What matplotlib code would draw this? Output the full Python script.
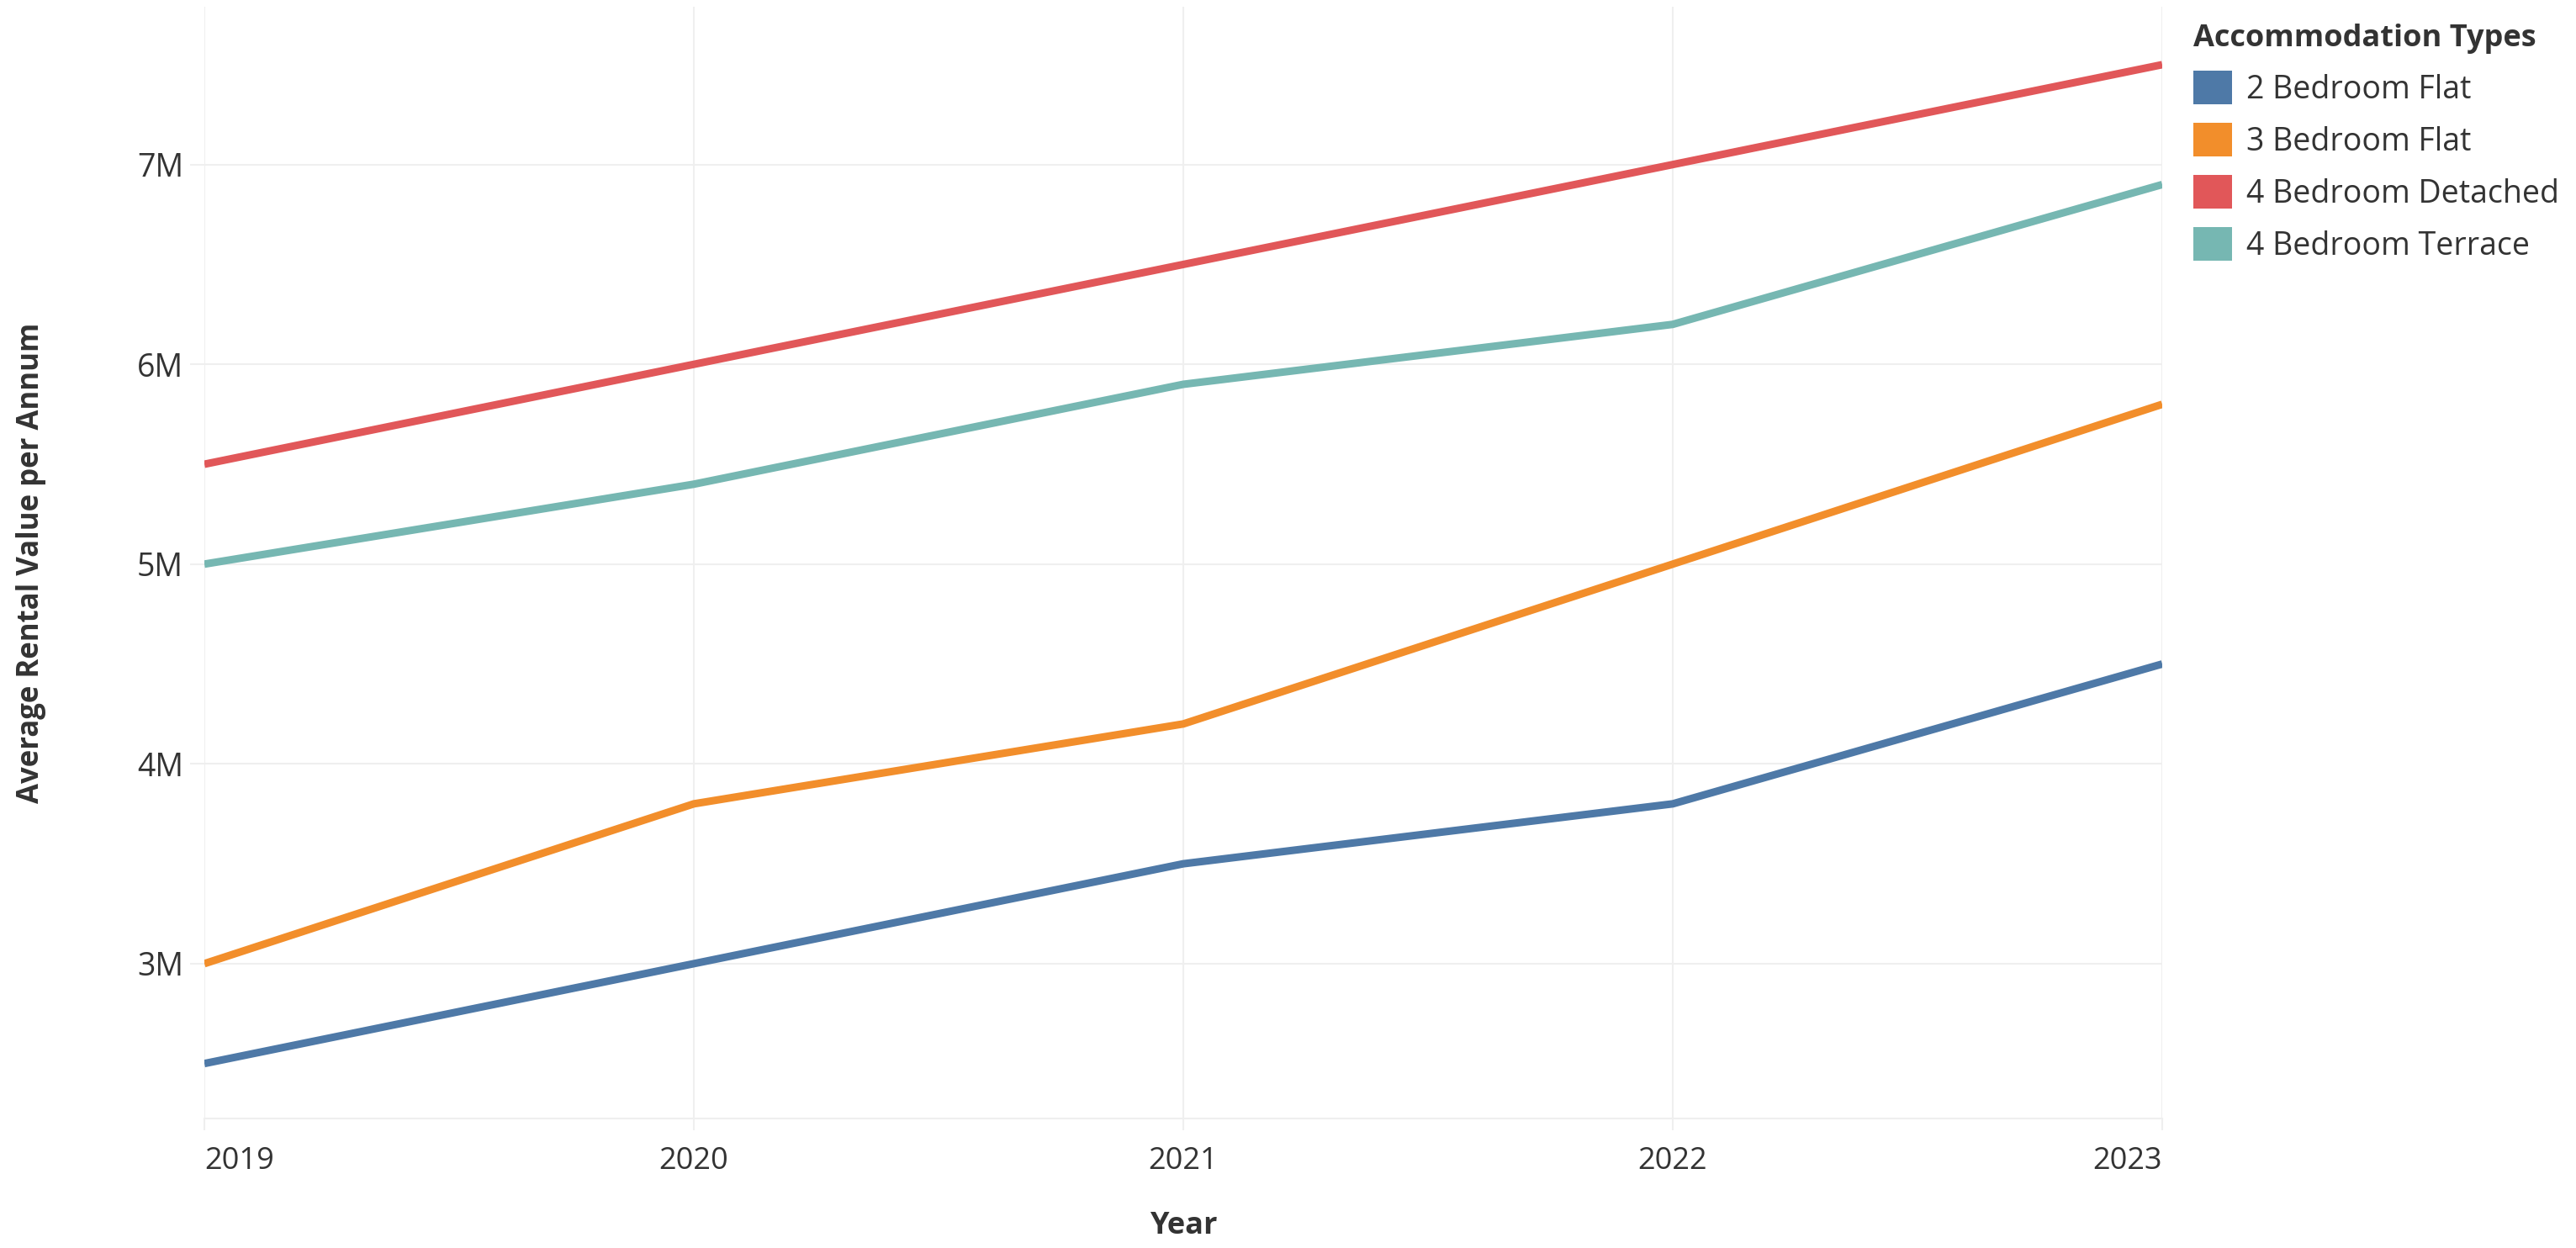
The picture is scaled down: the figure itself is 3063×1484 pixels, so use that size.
import matplotlib
matplotlib.use("Agg")
import matplotlib.pyplot as plt
from matplotlib.patches import Patch
from matplotlib.ticker import FuncFormatter, FixedLocator

# Data (values per annum)
years = [2019, 2020, 2021, 2022, 2023]
flat_2bed = [2500000, 3000000, 3500000, 3800000, 4500000]
flat_3bed = [3000000, 3800000, 4200000, 5000000, 5800000]
detached_4bed = [5500000, 6000000, 6500000, 7000000, 7500000]
terrace_4bed = [5000000, 5400000, 5900000, 6200000, 6900000]

series_names = ["2 Bedroom Flat", "3 Bedroom Flat", "4 Bedroom Detached", "4 Bedroom Terrace"]
series_values = [flat_2bed, flat_3bed, detached_4bed, terrace_4bed]
colors = ["#4e79a7", "#f28e2b", "#e15759", "#76b7b2"]
y_ticks = [3000000, 4000000, 5000000, 6000000, 7000000]

plt.rcParams['font.family'] = ['Open Sans', 'DejaVu Sans']

W, H = 3063, 1484
fig = plt.figure(figsize=(W / 100, H / 100), dpi=100)
ax = fig.add_axes([243 / W, 1 - 1330 / H, (2571 - 243) / W, (1330 - 8) / H])

grid_col = "#efefef"
text_col = "#333333"

for name, vals, col in zip(series_names, series_values, colors):
    ax.plot(years, vals, color=col, linewidth=6.5, solid_capstyle="butt", label=name, zorder=3)

ax.set_xlim(2019, 2023)
ax.set_ylim(2225000, 7790000)
ax.xaxis.set_major_locator(FixedLocator(years))
ax.yaxis.set_major_locator(FixedLocator(y_ticks))
ax.yaxis.set_major_formatter(FuncFormatter(lambda v, p: f"{v / 1e6:.0f}M"))

ax.grid(True, color=grid_col, linewidth=1.5, zorder=0)
for s in ["top", "right", "left"]:
    ax.spines[s].set_visible(False)
ax.spines["bottom"].set_color(grid_col)
ax.spines["bottom"].set_linewidth(1.5)

ax.tick_params(axis="y", length=12, width=1.5, color=grid_col, pad=6, labelsize=27, labelcolor=text_col)
ax.tick_params(axis="x", length=10, width=1.5, color=grid_col, pad=14, labelsize=26, labelcolor=text_col)

xlabels = ax.get_xticklabels()
xlabels[0].set_ha("left")
xlabels[-1].set_ha("right")

ax.set_xlabel("Year", fontsize=26, fontweight="bold", color=text_col, labelpad=29)
ax.set_ylabel("Average Rental Value per Annum", fontsize=25, fontweight="bold", color=text_col)
ax.yaxis.set_label_coords(-(243 - 55) / (2571 - 243), 0.5)

# Legend
handles = [Patch(facecolor=c, edgecolor="none") for c in colors]
leg = fig.legend(handles, series_names, title="Accommodation Types",
                 loc="upper left", bbox_to_anchor=(2600 / W, 1 - 20 / H),
                 frameon=False, fontsize=27, title_fontsize=26,
                 handlelength=1.25, handleheight=1.25, handletextpad=0.45,
                 labelspacing=0.55, borderaxespad=0, borderpad=0.2, alignment="left")
leg.get_title().set_fontweight("bold")
leg.get_title().set_color(text_col)
for t in leg.get_texts():
    t.set_color(text_col)

fig.savefig("out.png", dpi=100)
